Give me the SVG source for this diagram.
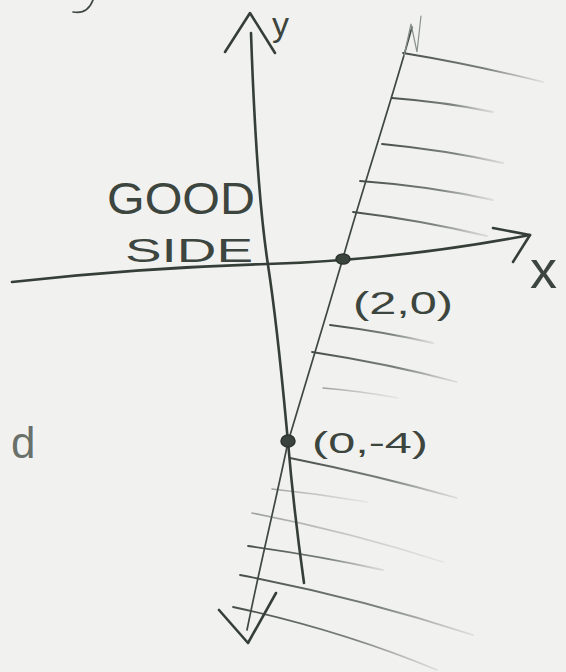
<svg xmlns="http://www.w3.org/2000/svg" width="566" height="672" viewBox="0 0 566 672">
  <defs>
    <linearGradient id="fade" x1="0" y1="0" x2="1" y2="0">
      <stop offset="0" stop-color="#3e463f" stop-opacity="0.95"/>
      <stop offset="0.6" stop-color="#4a524b" stop-opacity="0.7"/>
      <stop offset="1" stop-color="#6a716b" stop-opacity="0.15"/>
    </linearGradient>
    <linearGradient id="fadeLight" x1="0" y1="0" x2="1" y2="0">
      <stop offset="0" stop-color="#5a625b" stop-opacity="0.55"/>
      <stop offset="1" stop-color="#7a817b" stop-opacity="0.1"/>
    </linearGradient>
    <style>
      .axis { fill: none; stroke: #353e37; stroke-width: 2.6; stroke-linecap: round; stroke-linejoin: round; }
      .pen { fill: none; stroke: #3f4841; stroke-width: 1.7; stroke-linecap: round; stroke-linejoin: round; }
      .faint { fill: none; stroke: #8a908b; stroke-width: 1.2; stroke-linecap: round; }
      .hatch { fill: none; stroke: url(#fade); stroke-width: 1.8; stroke-linecap: round; }
      .hatchL { fill: none; stroke: url(#fadeLight); stroke-width: 1.5; stroke-linecap: round; }
      .dot { fill: #3a433c; stroke: #2c342e; stroke-width: 1.5; }
      .hand { font-family: "Liberation Sans", "DejaVu Sans", sans-serif; fill: #3c453e; }
    </style>
  </defs>
  <rect x="0" y="0" width="566" height="672" fill="#f1f1ef"/>

  <g id="fragments">
    <path class="pen" d="M93,0 C 90,8 84,14 73,12" stroke-width="2.4"/>
    <text class="hand" x="11" y="458" font-size="44" fill-opacity="0.75">d</text>
  </g>

  <g id="hatching">
    <path class="hatch" d="M403,53 Q 470,64 543,82"/>
    <path class="hatch" d="M392,98 Q 445,102 493,112"/>
    <path class="hatch" d="M382,144 Q 445,150 503,163"/>
    <path class="hatch" d="M360,181 Q 430,186 493,200"/>
    <path class="hatch" d="M353,212 Q 420,220 487,236"/>
    <path class="hatch" d="M330,325 Q 385,332 433,343"/>
    <path class="hatch" d="M312,352 Q 390,364 457,382"/>
    <path class="hatchL" d="M323,388 Q 360,391 398,398"/>
    <path class="hatch" d="M290,458 Q 375,475 457,498"/>
    <path class="hatchL" d="M272,489 Q 320,494 367,502"/>
    <path class="hatchL" d="M252,513 Q 350,532 443,562"/>
    <path class="hatch" d="M248,546 Q 320,556 383,570"/>
    <path class="hatch" d="M240,575 Q 360,598 473,635"/>
    <path class="hatch" d="M233,607 Q 340,630 437,670"/>
  </g>

  <g id="boundary-line">
    <path class="pen" d="M412,27 C 392,100 365,180 343,258 C 325,320 305,385 288,442 C 275,505 260,565 247,630"/>
    <path class="faint" d="M404,56 L411,24 L417,52 L421,16"/>
  </g>

  <g id="x-axis">
    <path class="axis" d="M12,282 C 100,272 200,266 267,264 S 430,254 530,235"/>
    <path class="axis" d="M493,228 L530,235 L513,262"/>
    <text class="hand" x="530" y="288" font-size="54">x</text>
  </g>

  <g id="y-axis">
    <path class="axis" d="M251,33 C 254,120 258,200 268,265 C 278,330 284,400 288,442 C 292,490 298,540 304,583"/>
    <path class="axis" d="M225,52 L250,13 L275,53"/>
    <text class="hand" x="272" y="36" font-size="34">y</text>
  </g>

  <g id="bottom-arrow">
    <path class="axis" d="M219,610 L248,643 L276,593"/>
  </g>

  <g id="point-2-0">
    <ellipse class="dot" cx="343" cy="259" rx="7" ry="5"/>
    <text class="hand" x="353" y="314" font-size="32" textLength="100" lengthAdjust="spacingAndGlyphs">(2,0)</text>
  </g>

  <g id="point-0-neg4">
    <ellipse class="dot" cx="288" cy="441" rx="7" ry="6"/>
    <text class="hand" x="312" y="453" font-size="30" textLength="116" lengthAdjust="spacingAndGlyphs">(0,-4)</text>
  </g>

  <g id="good-side-label">
    <text class="hand" x="107" y="214" font-size="44" textLength="148" lengthAdjust="spacingAndGlyphs">GOOD</text>
    <text class="hand" x="125" y="262" font-size="34" textLength="128" lengthAdjust="spacingAndGlyphs">SIDE</text>
  </g>
</svg>
